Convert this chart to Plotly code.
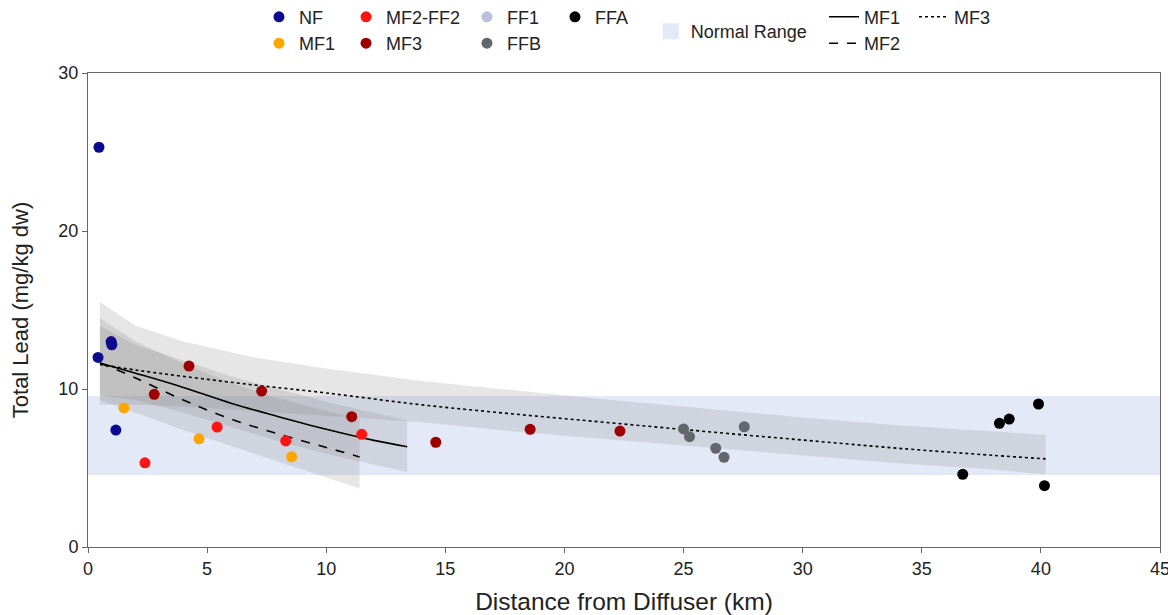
import plotly.graph_objects as go

# ---------------- data ----------------
nf_x = [0.46, 0.42, 0.97, 1.00, 1.17]
nf_y = [25.3, 12.0, 13.0, 12.8, 7.4]

mf1_x = [1.51, 4.66, 8.55]
mf1_y = [8.8, 6.85, 5.71]

mf2ff2_x = [2.39, 5.42, 8.30, 11.49]
mf2ff2_y = [5.33, 7.59, 6.71, 7.13]

mf3_x = [2.78, 4.24, 7.29, 11.07, 14.6, 18.56, 22.33]
mf3_y = [9.66, 11.45, 9.87, 8.25, 6.63, 7.45, 7.34]

ff1_x = [None]
ff1_y = [None]

ffb_x = [25.0, 25.25, 26.35, 26.7, 27.55]
ffb_y = [7.47, 6.98, 6.25, 5.68, 7.61]

ffa_x = [36.72, 38.26, 38.67, 39.9, 40.15]
ffa_y = [4.6, 7.83, 8.1, 9.05, 3.88]

normal_range = [4.55, 9.55]
x_range = [0, 45]

# fitted curves
fit_mf1_x = [0.5, 2, 4, 6, 8, 10, 12, 13.4]
fit_mf1_y = [11.65, 11.0, 10.1, 9.1, 8.25, 7.45, 6.75, 6.35]
band_mf1_up = [14.0, 12.8, 11.8, 10.8, 10.0, 9.2, 8.5, 8.0]
band_mf1_lo = [9.6, 9.3, 8.5, 7.6, 6.7, 5.9, 5.2, 4.75]

fit_mf2_x = [0.5, 2, 4, 6, 8, 10, 11.4]
fit_mf2_y = [11.65, 10.7, 9.3, 8.1, 7.15, 6.3, 5.7]
band_mf2_up = [14.5, 13.0, 11.6, 10.4, 9.4, 8.6, 8.1]
band_mf2_lo = [9.3, 8.5, 7.4, 6.4, 5.4, 4.4, 3.7]

fit_mf3_x = [0.5, 2, 4, 7, 10, 14, 18, 22, 26, 30, 34, 38, 40.2]
fit_mf3_y = [11.55, 11.2, 10.8, 10.25, 9.75, 9.0, 8.4, 7.85, 7.3, 6.77, 6.25, 5.8, 5.58]
band_mf3_up = [15.5, 14.0, 13.0, 12.0, 11.3, 10.5, 9.9, 9.3, 8.75, 8.2, 7.7, 7.3, 7.1]
band_mf3_lo = [9.0, 9.0, 8.9, 8.6, 8.3, 7.9, 7.3, 6.8, 6.3, 5.8, 5.3, 4.9, 4.6]

x_ticks = [0, 5, 10, 15, 20, 25, 30, 35, 40, 45]
y_ticks = [0, 10, 20, 30]

# ---------------- figure ----------------
FONT = "Liberation Sans, Arial, sans-serif"
BAND = "rgba(120,120,120,0.19)"
NR_COLOR = "#e4e9f7"
fig = go.Figure()

# normal range
fig.add_trace(go.Scatter(
    x=[x_range[0], x_range[1], x_range[1], x_range[0], x_range[0]],
    y=[normal_range[0], normal_range[0], normal_range[1], normal_range[1], normal_range[0]],
    fill="toself", fillcolor=NR_COLOR, mode="none",
    showlegend=False, hoverinfo="skip"))
fig.add_trace(go.Scatter(x=[None], y=[None], mode="markers", name="Normal Range", legend="legend5",
                         marker=dict(symbol="square", size=17, color=NR_COLOR)))

def band(xs, up, lo):
    fig.add_trace(go.Scatter(
        x=list(xs) + list(xs)[::-1], y=list(up) + list(lo)[::-1],
        fill="toself", fillcolor=BAND, mode="lines",
        line=dict(width=0),
        showlegend=False, hoverinfo="skip"))

band(fit_mf3_x, band_mf3_up, band_mf3_lo)
band(fit_mf1_x, band_mf1_up, band_mf1_lo)
band(fit_mf2_x, band_mf2_up, band_mf2_lo)

fig.add_trace(go.Scatter(x=fit_mf1_x, y=fit_mf1_y, mode="lines", name="MF1",
                         line=dict(color="black", width=1.6, shape="spline"), legend="legend6"))
fig.add_trace(go.Scatter(x=fit_mf2_x, y=fit_mf2_y, mode="lines", name="MF2",
                         line=dict(color="black", width=1.6, dash="dash", shape="spline"), legend="legend6"))
fig.add_trace(go.Scatter(x=fit_mf3_x, y=fit_mf3_y, mode="lines", name="MF3",
                         line=dict(color="black", width=1.6, dash="dot", shape="spline"), legend="legend7"))

def pts(xs, ys, name, color, leg):
    fig.add_trace(go.Scatter(x=xs, y=ys, mode="markers", name=name, legend=leg,
                             marker=dict(color=color, size=11, line=dict(width=0))))

pts(nf_x, nf_y, "NF", "#0b0b8f", "legend")
pts(mf1_x, mf1_y, "MF1", "#ffa500", "legend")
pts(mf2ff2_x, mf2ff2_y, "MF2-FF2", "#ff1414", "legend2")
pts(mf3_x, mf3_y, "MF3", "#9e0000", "legend2")
pts(ff1_x, ff1_y, "FF1", "#b9c2dc", "legend3")
pts(ffb_x, ffb_y, "FFB", "#63666d", "legend3")
pts(ffa_x, ffa_y, "FFA", "#000000", "legend4")

leg_common = dict(font=dict(family=FONT, size=18, color="#222"), bgcolor="rgba(0,0,0,0)",
                  yanchor="top", xanchor="left", tracegroupgap=0, itemwidth=30)
row_top = 1.157
fig.update_layout(
    legend=dict(x=0.1595, y=row_top, **leg_common),
    legend2=dict(x=0.2407, y=row_top, **leg_common),
    legend3=dict(x=0.3535, y=row_top, **leg_common),
    legend4=dict(x=0.4356, y=row_top, **leg_common),
    legend5=dict(x=0.525, y=1.1265, **leg_common),
    legend6=dict(x=0.6866, y=row_top, **leg_common),
    legend7=dict(x=0.7705, y=row_top, **leg_common),
)

axis_common = dict(showgrid=False, zeroline=False, showline=True, linecolor="#666", linewidth=1,
                   mirror=True, ticks="outside", ticklen=5, tickcolor="#666", automargin=False,
                   tickfont=dict(family=FONT, size=18, color="#222"))
fig.update_xaxes(range=x_range, tickvals=x_ticks, ticktext=[str(v) for v in x_ticks],
                 title=dict(text="Distance from Diffuser (km)", font=dict(family=FONT, size=24.5, color="#222"),
                            standoff=28),
                 **axis_common)
fig.update_yaxes(range=[0, 30], tickvals=y_ticks, ticktext=[str(v) for v in y_ticks],
                 title=dict(text="Total Lead (mg/kg dw)", font=dict(family=FONT, size=22, color="#222"),
                            standoff=24),
                 **axis_common)

# page body has an 8px margin: the figure is sized/positioned to compensate
fig.update_layout(width=1168, height=607, margin=dict(l=80, r=16, t=65, b=68, autoexpand=False),
                  plot_bgcolor="white", paper_bgcolor="white",
                  font=dict(family=FONT, color="#222"))
fig.write_html("out.html")
